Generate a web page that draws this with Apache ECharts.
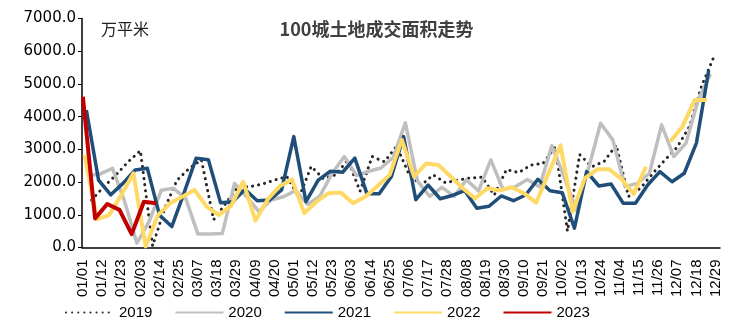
<!DOCTYPE html>
<html>
<head>
<meta charset="utf-8">
<script src="https://cdn.jsdelivr.net/npm/echarts@6/dist/echarts.min.js"></script>
<style>
  html, body { margin: 0; padding: 0; background: #fff; }
  #chart { width: 753px; height: 325px; }
</style>
</head>
<body>
<div id="chart"></div>
<script>
// Weekly land transaction area of 100 cities (万平米), one line per year.
// Each year's weekly values start on the date given in its *Start constant.
const years = ['2019', '2020', '2021', '2022', '2023'];

const start2019 = '01/06';
const start2020 = '01/04';
const start2021 = '01/03';
const start2022 = '01/02';
const start2023 = '01/01';

const v2019 = [1450, 1860, 2220, 2620, 2960, 50, 1200, 2060, 2420, 2680, 850, 1350, 1860,
  1860, 1940, 2060, 2170, 1530, 2480, 2100, 2220, 2680, 1720, 2780, 2620, 3100,
  2250, 1900, 2220, 1980, 2060, 2120, 2150, 1600, 2380, 2290, 2520, 2570, 3080,
  500, 2840, 2470, 2630, 3130, 1560, 1820, 2270, 2680, 3070, 3700, 4940, 5830];

const v2020 = [2200, 2250, 2420, 1400, 130, 800, 1750, 1810, 1500, 410, 410, 430, 1960,
  1550, 1100, 1450, 1550, 1740, 1320, 1580, 2270, 2780, 2200, 2330, 2430, 2750,
  3810, 2030, 1560, 1840, 1560, 2070, 1730, 2680, 1780, 1860, 2080, 1860, 3110,
  2170, 1150, 2400, 3800, 3290, 1860, 1960, 2270, 3750, 2780, 3190, 4510, 5300];

const v2021 = [4200, 2060, 1610, 1960, 2370, 2420, 990, 640, 1660, 2730, 2680, 1370, 1400,
  1780, 1430, 1450, 1760, 3390, 1400, 2060, 2330, 2300, 2730, 1640, 1640, 2170,
  3390, 1460, 1910, 1490, 1590, 1740, 1200, 1260, 1575, 1430, 1605, 2085, 1737,
  1676, 590, 2320, 1880, 1940, 1350, 1350, 1910, 2320, 2010, 2270, 3200, 5410];

const v2022 = [2830, 860, 990, 1600, 2270, 30, 990, 1350, 1550, 1760, 1250, 990, 1270,
  2010, 820, 1470, 1880, 2080, 1050, 1400, 1660, 1680, 1350, 1550, 1880, 2220,
  3290, 2170, 2570, 2520, 2170, 1810, 1500, 1810, 1740, 1840, 1660, 1370, 2250,
  3120, 1100, 2120, 2390, 2390, 2090, 1640, 2470, null, 3240, 3700, 4510, 4510];

const v2023 = [4610, 890, 1330, 1150, 410, 1400, 1350];

const yTicks = { min: 0, max: 7000, step: 1000 };

// Daily category axis over a full 366-day calendar: 01/01 … 12/31
const days = [];
(function () {
  const d = new Date(2020, 0, 1);
  while (d.getFullYear() === 2020) {
    const mm = String(d.getMonth() + 1).padStart(2, '0');
    const dd = String(d.getDate()).padStart(2, '0');
    days.push(mm + '/' + dd);
    d.setDate(d.getDate() + 1);
  }
})();

// Pair weekly values with their dates on the daily axis
function weekly(start, values) {
  const i0 = days.indexOf(start);
  return values.map((v, k) => [days[i0 + 7 * k], v == null ? '-' : v]);
}

const seriesDefs = [
  { name: '2019', data: weekly(start2019, v2019), color: '#262626', width: 3, type: [0.1, 6], cap: 'round' },
  { name: '2020', data: weekly(start2020, v2020), color: '#BFBFBF', width: 3.5, type: 'solid', cap: 'butt' },
  { name: '2021', data: weekly(start2021, v2021), color: '#1F4E79', width: 3.5, type: 'solid', cap: 'butt' },
  { name: '2022', data: weekly(start2022, v2022), color: '#FFD966', width: 4, type: 'solid', cap: 'butt' },
  { name: '2023', data: weekly(start2023, v2023), color: '#C00000', width: 4, type: 'solid', cap: 'butt' }
];

const chart = echarts.init(document.getElementById('chart'), null, { renderer: 'canvas' });

chart.setOption({
  animation: false,
  backgroundColor: '#ffffff',
  title: [
    {
      text: '100城土地成交面积走势',
      left: 'center',
      top: 15,
      textStyle: { fontFamily: 'Noto Sans CJK SC', fontSize: 18, fontWeight: 'bold', color: '#404040' }
    },
    {
      text: '万平米',
      left: 96,
      top: 16,
      textStyle: { fontFamily: 'Noto Sans CJK SC', fontSize: 16, fontWeight: 'normal', color: '#222' }
    }
  ],
  grid: { left: 82, right: 33, top: 18.5, bottom: 77.5, containLabel: false },
  legend: {
    data: years,
    left: 60,
    top: 300,
    itemWidth: 48,
    itemHeight: 14,
    itemGap: 22,
    itemStyle: { opacity: 0 },
    textStyle: { fontFamily: 'Liberation Sans', fontSize: 15, color: '#000' }
  },
  xAxis: {
    type: 'category',
    data: days,
    boundaryGap: true,
    axisLine: { lineStyle: { color: '#000', width: 1.5 } },
    axisTick: { interval: 0, length: 4, lineStyle: { color: '#333', width: 1 } },
    axisLabel: {
      interval: 10,
      rotate: 90,
      margin: 12,
      fontFamily: 'Liberation Sans',
      fontSize: 15,
      color: '#000'
    },
    splitLine: { show: false }
  },
  yAxis: {
    type: 'value',
    min: yTicks.min,
    max: yTicks.max,
    interval: yTicks.step,
    axisLine: { show: true, lineStyle: { color: '#000', width: 1.5 } },
    axisTick: { show: true, length: 4, lineStyle: { color: '#000' } },
    axisLabel: {
      margin: 6,
      fontFamily: 'DejaVu Sans',
      fontSize: 15,
      color: '#000',
      formatter: v => v.toFixed(1)
    },
    splitLine: { show: false }
  },
  series: seriesDefs.map(s => ({
    name: s.name,
    type: 'line',
    data: s.data,
    symbol: 'none',
    connectNulls: false,
    color: s.color,
    lineStyle: { color: s.color, width: s.width, type: s.type, cap: s.cap, join: 'round' },
    emphasis: { disabled: true }
  }))
});
</script>
</body>
</html>
